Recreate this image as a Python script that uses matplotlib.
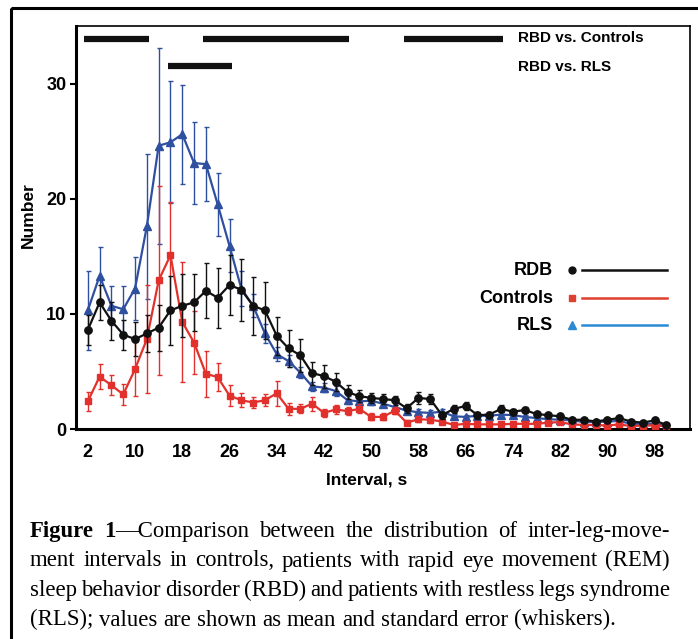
"""
Inter-leg-movement interval distributions (RBD, controls, RLS) with SE whiskers.
"""
import matplotlib.pyplot as plt
from matplotlib.patches import Rectangle
import numpy as np

plt.rcParams["font.family"] = ["Liberation Sans", "DejaVu Sans"]

# Data (mean and standard error per 2 s interval bin)
interval = np.arange(2, 101, 2)

rbd_mean = [8.6, 11.0, 9.4, 8.2, 7.8, 8.3, 8.8, 10.3, 10.7, 11.0,
            12.0, 11.4, 12.5, 12.1, 10.7, 10.3, 8.1, 7.0, 6.4, 4.85,
            4.6, 4.1, 3.2, 2.85, 2.7, 2.6, 2.5, 1.8, 2.7, 2.6,
            1.2, 1.75, 2.0, 1.2, 1.25, 1.75, 1.5, 1.65, 1.3, 1.2,
            1.1, 0.8, 0.8, 0.65, 0.8, 0.95, 0.65, 0.55, 0.75, 0.35]
rbd_se = [1.3, 1.5, 1.65, 1.3, 1.45, 1.6, 2.0, 3.0, 2.75, 2.5,
          2.4, 2.6, 2.6, 2.7, 2.5, 2.5, 1.65, 1.6, 1.45, 1.0,
          1.0, 0.8, 0.6, 0.5, 0.45, 0.45, 0.4, 0.4, 0.5, 0.45,
          0.3, 0.35, 0.35, 0.3, 0.25, 0.3, 0.25, 0.25, 0.2, 0.2,
          0.2, 0.15, 0.15, 0.15, 0.15, 0.15, 0.12, 0.12, 0.12, 0.1]

controls_mean = [2.4, 4.55, 3.8, 3.0, 5.2, 7.8, 12.9, 15.1, 9.3, 7.5,
                 4.8, 4.5, 2.9, 2.5, 2.3, 2.5, 3.1, 1.75, 1.75, 2.2,
                 1.4, 1.7, 1.55, 1.75, 1.05, 1.05, 1.6, 0.55, 0.85, 0.8,
                 0.65, 0.35, 0.45, 0.4, 0.4, 0.4, 0.45, 0.45, 0.45, 0.55,
                 0.6, 0.4, 0.35, 0.35, 0.3, 0.4, 0.25, 0.3, 0.3, 0.25]
controls_se = [0.8, 1.1, 0.85, 0.9, 2.35, 4.7, 8.2, 4.6, 5.2, 2.75,
               2.0, 1.2, 0.9, 0.6, 0.5, 0.5, 1.1, 0.5, 0.4, 0.6,
               0.35, 0.4, 0.35, 0.4, 0.3, 0.3, 0.3, 0.2, 0.25, 0.25,
               0.2, 0.15, 0.15, 0.15, 0.15, 0.15, 0.15, 0.15, 0.15, 0.15,
               0.15, 0.12, 0.1, 0.1, 0.1, 0.1, 0.1, 0.1, 0.1, 0.1]

rls_mean = [10.3, 13.3, 10.7, 10.4, 12.2, 17.6, 24.6, 24.9, 25.6, 23.1,
            23.0, 19.5, 15.9, 12.2, 10.7, 8.3, 6.5, 5.9, 4.9, 3.7,
            3.6, 3.3, 2.5, 2.4, 2.45, 2.2, 1.9, 1.6, 1.45, 1.4,
            1.5, 1.1, 1.05, 1.15, 1.15, 1.25, 1.2, 1.05, 0.95, 0.85,
            0.8, 0.75, 0.6, 0.6, 0.65, 0.7, 0.45, 0.45, 0.45, 0.3]
rls_se = [3.4, 2.5, 1.7, 2.0, 2.7, 6.3, 8.5, 5.3, 4.3, 3.6,
          3.2, 2.7, 2.3, 1.5, 1.0, 0.8, 0.6, 0.55, 0.5, 0.4,
          0.4, 0.4, 0.35, 0.3, 0.4, 0.3, 0.3, 0.25, 0.25, 0.25,
          0.2, 0.2, 0.2, 0.2, 0.2, 0.2, 0.2, 0.15, 0.15, 0.15,
          0.15, 0.15, 0.12, 0.12, 0.12, 0.12, 0.1, 0.1, 0.1, 0.1]

xtick_values = np.arange(2, 99, 8)
ytick_values = [0, 10, 20, 30]

# significant stretches (interval start, end)
rbd_vs_controls_start = [1.4, 21.5, 55.6]
rbd_vs_controls_end = [12.4, 46.3, 72.3]
rbd_vs_rls_start = [15.5]
rbd_vs_rls_end = [26.4]

series_names = ["RDB", "Controls", "RLS"]

caption_lines = [
    [[("Figure", "bold")], [("1", "bold"), ("\u2014Comparison", "normal")],
     "between", "the", "distribution", "of", "inter-leg-move-"],
    "ment intervals in controls, patients with rapid eye movement (REM)".split(),
    "sleep behavior disorder (RBD) and patients with restless legs syndrome".split(),
    "(RLS); values are shown as mean and standard error (whiskers).".split(),
]

BLACK = "#111111"
RED = "#e2312d"
BLUE = "#2f4f9f"
LEG_RED = "#e0402f"
LEG_BLUE = "#2a8ad4"

W, H = 698, 639
fig = plt.figure(figsize=(W / 100, H / 100), dpi=100)

# background axes in pixel units for the frame and caption
bg = fig.add_axes([0, 0, 1, 1])
bg.set_xlim(0, W)
bg.set_ylim(H, 0)
bg.axis("off")
bg.add_patch(Rectangle((11, 8), 760, 700, fill=False, lw=2.2, ec="black"))

ax = fig.add_axes([76 / W, 1 - 429 / H, 614 / W, 403 / H])

ax.errorbar(interval, rls_mean, yerr=rls_se, color=BLUE, marker="^", ms=5.5,
            lw=1.6, elinewidth=1.0, capsize=1.8, capthick=1.0, zorder=2)
ax.errorbar(interval, controls_mean, yerr=controls_se, color=RED, marker="s",
            ms=4.8, lw=1.6, elinewidth=1.0, capsize=1.8, capthick=1.0, zorder=3)
ax.errorbar(interval, rbd_mean, yerr=rbd_se, color=BLACK, marker="o", ms=5.3,
            lw=1.6, elinewidth=1.0, capsize=1.8, capthick=1.0, zorder=4)

ax.hlines([33.9] * len(rbd_vs_controls_start), rbd_vs_controls_start,
          rbd_vs_controls_end, color=BLACK, lw=4.5)
ax.hlines([31.5] * len(rbd_vs_rls_start), rbd_vs_rls_start,
          rbd_vs_rls_end, color=BLACK, lw=4.5)
ax.text(0.72, 0.970, "RBD vs. Controls", transform=ax.transAxes,
        fontsize=11, weight="bold", va="center", ha="left")
ax.text(0.72, 0.898, "RBD vs. RLS", transform=ax.transAxes,
        fontsize=11, weight="bold", va="center", ha="left")

# hand-made legend: label, marker, line
leg_rows = [0.3945, 0.325, 0.258]
leg_markers = ["o", "s", "^"]
leg_colors = [BLACK, LEG_RED, LEG_BLUE]
leg_sizes = [5, 5, 5.5]
for name, yy, mk, col, sz in zip(series_names, leg_rows, leg_markers,
                                 leg_colors, leg_sizes):
    ax.text(0.777, yy, name, transform=ax.transAxes, fontsize=13,
            weight="bold", ha="right", va="center")
    ax.plot([0.808], [yy], marker=mk, color=col, ms=sz, ls="none",
            transform=ax.transAxes)
    ax.plot([0.824, 0.9625], [yy, yy], color=col, lw=1.8,
            transform=ax.transAxes)

ax.set_xlim(0, 104)
ax.set_ylim(0, 35)
ax.set_xticks(xtick_values)
ax.set_yticks(ytick_values)
ax.tick_params(axis="y", direction="out", length=4, width=1.5, pad=3,
               labelsize=13)
ax.tick_params(axis="x", length=0, pad=11, labelsize=13)
for lab in ax.get_xticklabels() + ax.get_yticklabels():
    lab.set_fontweight("bold")

for side in ["left", "bottom"]:
    ax.spines[side].set_linewidth(2.2)
for side in ["top", "right"]:
    ax.spines[side].set_linewidth(1.2)

ax.set_xlabel("Interval, s", fontsize=12.5, weight="bold", va="center")
ax.xaxis.set_label_coords(0.474, -0.1266)
ax.set_ylabel("Number", fontsize=12.5, weight="bold", va="center")
ax.yaxis.set_label_coords(-0.078, 0.531)

# caption, justified word by word
renderer = fig.canvas.get_renderer()
SERIF = "Liberation Serif"


def piece_width(s, weight, size):
    t = bg.text(0, 0, s, fontsize=size, weight=weight, family=SERIF)
    w = t.get_window_extent(renderer).width
    t.remove()
    return w


def as_pieces(tok):
    return [(tok, "normal")] if isinstance(tok, str) else tok


def natural_width(line, size):
    words = [sum(piece_width(s, wt, size) for s, wt in as_pieces(tok))
             for tok in line]
    space = piece_width("a a", "normal", size) - piece_width("aa", "normal", size)
    return words, space


left, right = 30, 670

# fit the size so the longest line sets naturally at the full width
fit_words, fit_space = natural_width(caption_lines[2], 16)
cap_size = 16 * (right - left) / (sum(fit_words)
                                  + 0.75 * fit_space * (len(fit_words) - 1))

baselines = [537, 566.5, 596, 625.5]
for i, (line, base) in enumerate(zip(caption_lines, baselines)):
    words, space = natural_width(line, cap_size)
    if i < len(caption_lines) - 1:
        gap = (right - left - sum(words)) / (len(words) - 1)
    else:
        gap = space
    x = left
    for tok, w in zip(line, words):
        px = x
        for s, wt in as_pieces(tok):
            bg.text(px, base, s, fontsize=cap_size, weight=wt, family=SERIF,
                    ha="left", va="baseline")
            px += piece_width(s, wt, cap_size)
        x += w + gap

fig.savefig("out.png", dpi=100)
